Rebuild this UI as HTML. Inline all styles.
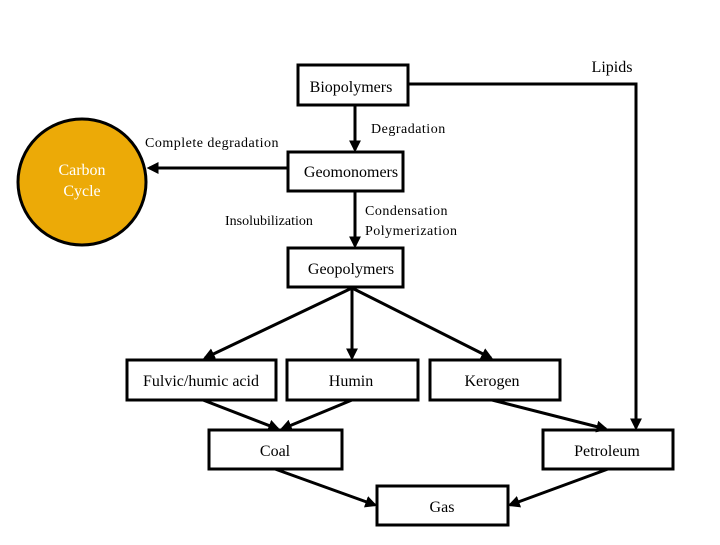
<!DOCTYPE html>
<html><head><style>
body{margin:0;background:#fff;}
svg text{font-family:"Liberation Serif",serif;}
</style></head><body>
<svg width="720" height="540" viewBox="0 0 720 540" xmlns="http://www.w3.org/2000/svg">
<defs><marker id="a" markerWidth="4" markerHeight="4" refX="3.2" refY="2" orient="auto" markerUnits="strokeWidth"><path d="M0,0 L4,2 L0,4 Z" fill="#000"/></marker></defs>
<g stroke="#000" stroke-width="3" fill="none">
<rect x="298" y="65" width="110" height="40" fill="#fff"/>
<rect x="288" y="152" width="115" height="39" fill="#fff"/>
<rect x="288" y="248" width="115" height="39" fill="#fff"/>
<rect x="127" y="360" width="149" height="40" fill="#fff"/>
<rect x="287" y="360" width="131" height="40" fill="#fff"/>
<rect x="430" y="360" width="130" height="40" fill="#fff"/>
<rect x="209" y="430" width="133" height="39" fill="#fff"/>
<rect x="543" y="430" width="130" height="39" fill="#fff"/>
<rect x="377" y="486" width="131" height="39" fill="#fff"/>
<ellipse cx="82" cy="182" rx="64" ry="63" fill="#ECAA07"/>
<polyline points="408,84 636,84 636,428" marker-end="url(#a)"/>
<line x1="355" y1="105" x2="355" y2="150" marker-end="url(#a)"/>
<line x1="355" y1="191" x2="355" y2="246" marker-end="url(#a)"/>
<line x1="288" y1="168" x2="149" y2="168" marker-end="url(#a)"/>
<line x1="352" y1="288" x2="205" y2="358" marker-end="url(#a)"/>
<line x1="352" y1="288" x2="352" y2="358" marker-end="url(#a)"/>
<line x1="352" y1="288" x2="491" y2="358" marker-end="url(#a)"/>
<line x1="203" y1="400" x2="278" y2="429" marker-end="url(#a)"/>
<line x1="352" y1="400" x2="282" y2="429" marker-end="url(#a)"/>
<line x1="492" y1="400" x2="606" y2="429" marker-end="url(#a)"/>
<line x1="275" y1="469" x2="375" y2="505" marker-end="url(#a)"/>
<line x1="608" y1="469" x2="510" y2="505" marker-end="url(#a)"/>
</g>
<g font-size="16" text-anchor="middle" fill="#000">
<text x="351" y="92">Biopolymers</text>
<text x="351" y="177">Geomonomers</text>
<text x="351" y="274">Geopolymers</text>
<text x="201" y="386">Fulvic/humic acid</text>
<text x="351" y="386">Humin</text>
<text x="492" y="386">Kerogen</text>
<text x="275" y="456">Coal</text>
<text x="607" y="456">Petroleum</text>
<text x="442" y="512">Gas</text>
<text x="612" y="72">Lipids</text>
<text x="82" y="175" fill="#fff">Carbon</text>
<text x="82" y="196" fill="#fff">Cycle</text>
</g>
<g font-size="14" fill="#000">
<text x="371" y="133" letter-spacing="0.5">Degradation</text>
<text x="145" y="147" letter-spacing="0.5">Complete degradation</text>
<text x="225" y="225">Insolubilization</text>
<text x="365" y="215" letter-spacing="0.5">Condensation</text>
<text x="365" y="235" letter-spacing="0.5">Polymerization</text>
</g>
</svg>
</body></html>
